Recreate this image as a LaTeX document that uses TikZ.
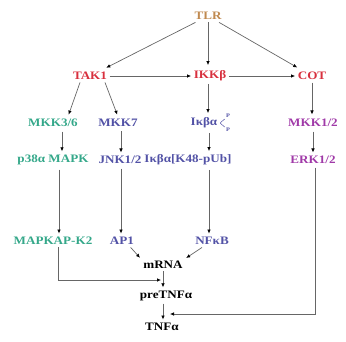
\documentclass[tikz,border=0pt]{standalone}
\usepackage{fontspec}
\newfontfamily\labfont{Liberation Serif}[FakeStretch=1.15]
\usetikzlibrary{arrows.meta}
\definecolor{ctlr}{HTML}{C08A50}
\definecolor{cred}{HTML}{D8303E}
\definecolor{cteal}{HTML}{35A88A}
\definecolor{cblue}{HTML}{5252A6}
\definecolor{cmag}{HTML}{A03AA8}
\tikzset{
  lab/.style={font=\labfont\bfseries\fontsize{11.4}{13}\selectfont, inner sep=2.5pt},
  arr/.style={draw=black!60, line width=0.7pt, -{Latex[length=4pt,width=3.6pt,black]}},
  tiny/.style={font=\labfont\bfseries\fontsize{5.5}{6}\selectfont, inner sep=0pt, text=cblue},
}
\begin{document}
\begin{tikzpicture}[x=1pt,y=-1pt]
\useasboundingbox (0,0) rectangle (346,341);
% nodes
\node[lab,text=ctlr] (tlr) at (208,16) {TLR};
\node[lab,text=cred] (tak1) at (90,76) {TAK1};
\node[lab,text=cred] (ikk) at (210,76) {IKKβ};
\node[lab,text=cred] (cot) at (312,76) {COT};
\node[lab,text=cteal] (mkk36) at (53,123) {MKK3/6};
\node[lab,text=cblue] (mkk7) at (118,123) {MKK7};
\node[lab,text=cblue] (ikba) at (204,123) {Iκβα};
\node[tiny] (pu) at (228,116) {P};
\node[tiny] (pd) at (228,130) {P};
\node[lab,text=cmag] (mkk12) at (313,123) {MKK1/2};
\node[lab,text=cteal] (p38) at (53,160) {p38α MAPK};
\node[lab,text=cblue] (jnk) at (120,160) {JNK1/2};
\node[lab,text=cblue] (ikbub) at (188,160) {Iκβα[K48-pUb]};
\node[lab,text=cmag] (erk) at (313,160) {ERK1/2};
\node[lab,text=cteal] (mapkap) at (53,241) {MAPKAP-K2};
\node[lab,text=cblue] (ap1) at (122,241) {AP1};
\node[lab,text=cblue] (nfkb) at (212,241) {NFκB};
\node[lab] (mrna) at (163,265) {mRNA};
\node[lab] (pretnf) at (166,296) {preTNFα};
\node[lab] (tnf) at (162,327) {TNFα};
\coordinate (mkend) at (161,280);
\coordinate (erkend) at (170,314);
% P marks
\draw[cblue, line width=0.5pt, shorten <=0.5pt, shorten >=1.5pt] (ikba.east) -- (pu.south west);
\draw[cblue, line width=0.5pt, shorten <=0.5pt, shorten >=1.5pt] (ikba.east) -- (pd.north west);
% connectors
\draw[arr, shorten >=4pt] (tlr) -- (tak1);
\draw[arr, shorten >=4pt] (tlr) -- (cot);
\draw[arr, shorten >=3pt] (tlr.south) -- (tlr.south |- ikk.north);
\draw[arr] (tak1.east) -- (ikk.west);
\draw[arr] (ikk.east) -- (cot.west);
\draw[arr, shorten >=2pt] ([xshift=-10pt]tak1.south) -- ([xshift=15pt]mkk36.north);
\draw[arr, shorten >=2pt] ([xshift=15pt]tak1.south) -- (mkk7.north);
\draw[arr, shorten >=2pt] ([xshift=-2pt]ikk.south) -- ([xshift=-2pt]ikk.south |- ikba.north);
\draw[arr, shorten >=2pt] (cot.south) -- (cot.south |- mkk12.north);
\draw[arr, shorten <=2pt, shorten >=1pt] ([xshift=9pt]mkk36.south) -- ([xshift=9pt]p38.north);
\draw[arr, shorten <=2pt, shorten >=1pt] ([xshift=3pt]mkk7.south) -- ([xshift=1pt]jnk.north);
\draw[arr, shorten <=2pt, shorten >=1pt] ([xshift=5pt]ikba.south) -- ([xshift=5pt]ikba.south |- ikbub.north);
\draw[arr, shorten <=2pt, shorten >=1pt] (mkk12.south) -- (erk.north);
\draw[arr, shorten <=2pt, shorten >=1pt] ([xshift=6pt]p38.south) -- ([xshift=6pt]mapkap.north);
\draw[arr, shorten <=2pt, shorten >=1pt] ([xshift=1pt]jnk.south) -- ([xshift=1pt]jnk.south |- ap1.north);
\draw[arr, shorten <=2pt, shorten >=1pt] ([xshift=5pt]ikba.south |- ikbub.south) -- ([xshift=5pt]ikba.south |- nfkb.north);
\draw[arr, shorten <=1pt] ([xshift=2pt]erk.south) |- (erkend);
\draw[arr, shorten >=1pt] ([xshift=-6pt]ap1.south east) -- (mrna.north west);
\draw[arr, shorten >=1pt] ([xshift=-10pt]nfkb.south) -- (mrna.north east);
\draw[arr, shorten >=1pt] (mrna.south) -- (mrna.south |- pretnf.north);
\draw[arr] ([xshift=5pt]mapkap.south) |- (mkend);
\draw[arr, shorten >=1pt] (pretnf.south -| mrna) -- (mrna |- tnf.north);
\end{tikzpicture}
\end{document}
